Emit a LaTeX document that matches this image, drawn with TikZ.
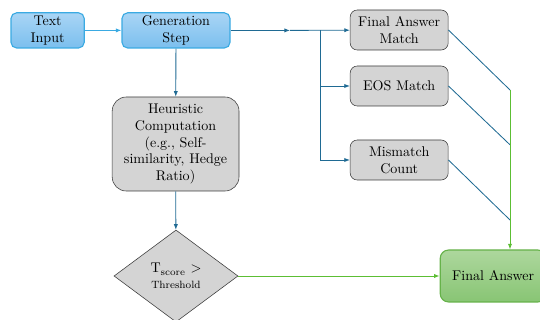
\documentclass[tikz,border=0pt]{standalone}
\usepackage{xcolor}
\usetikzlibrary{arrows.meta,positioning,shapes.geometric,calc}

\definecolor{skyfill1}{HTML}{A9D5F5}
\definecolor{skyfill2}{HTML}{7BBFEE}
\definecolor{skyline}{HTML}{3AAAE2}
\definecolor{tealline}{HTML}{1F6A93}
\definecolor{greyfill}{HTML}{D4D4D4}
\definecolor{greyline}{HTML}{3C3C3C}
\definecolor{leaf1}{HTML}{ADD79D}
\definecolor{leaf2}{HTML}{88C574}
\definecolor{leafline}{HTML}{66B24A}
\definecolor{grline}{HTML}{5CBE34}

\begin{document}
\begin{tikzpicture}[font=\fontsize{10}{12}\selectfont,>={Latex[length=4pt,width=3pt]},
  inbox/.style={draw=skyline,thick,rounded corners=4pt,top color=skyfill1,bottom color=skyfill2,align=center,inner sep=1pt},
  grbox/.style={draw=greyline,rounded corners=5pt,fill=greyfill,align=center,inner sep=1pt},
  outbox/.style={draw=leafline,thick,rounded corners=6pt,top color=leaf1,bottom color=leaf2,align=center},
  test/.style={draw=greyline,diamond,fill=greyfill,align=center,inner sep=0pt,minimum width=3.1cm,minimum height=2.3cm},
  tl/.style={draw=tealline,semithick},
  gl/.style={draw=grline,semithick}]
  \useasboundingbox (0,0) rectangle (13.5,-8);
  \node[inbox,minimum width=1.83cm,minimum height=0.88cm] (txt) at (1.19,-0.76) {Text\\Input};
  \node[inbox,minimum width=2.7cm,minimum height=0.88cm] (gen) at (4.4,-0.76) {Generation\\Step};
  \node[grbox,minimum width=2.45cm,minimum height=1cm] (fam) at (9.98,-0.75) {Final Answer\\Match};
  \node[grbox,minimum width=2.45cm,minimum height=1cm] (eos) at (9.98,-2.15) {EOS Match};
  \node[grbox,minimum width=2.45cm,minimum height=1cm] (mis) at (9.98,-4.0) {Mismatch\\Count};
  \node[grbox,rounded corners=10pt,text width=3.1cm,minimum height=2.35cm] (heu) at (4.39,-3.6)
    {Heuristic\\Computation\\(e.g., Self-\\similarity, Hedge\\Ratio)};
  \node[test] (thr) at (4.4,-6.9) {T\textsubscript{score} $>$\\[-1pt]{\fontsize{7.5}{9}\selectfont Threshold}};
  \node[outbox,minimum width=2.65cm,minimum height=1.3cm] (fin) at (12.33,-6.9) {Final Answer};
  % junctions
  \coordinate (mid) at (7.25,-0.76);
  \coordinate (fork) at (8.0,-0.76);
  \coordinate (j1) at (12.75,-2.25);
  \coordinate (j2) at (12.75,-3.62);
  \coordinate (j3) at (12.75,-5.5);
  \draw[->,draw=skyline,semithick] (txt) -- (gen);
  \draw[->,tl] (gen) -- (mid);
  \draw[->,tl] (mid) -- (fam);
  \draw[->,tl] (fork) |- (eos);
  \draw[->,tl] (fork) |- (mis);
  \draw[->,tl] (gen) -- (heu);
  \draw[->,tl] (heu) -- (thr);
  \draw[tl] (fam.east) -- (j1);
  \draw[tl] (eos.east) -- (j2);
  \draw[tl] (mis.east) -- (j3);
  \draw[->,gl] (j1) -- (j1 |- fin.north);
  \draw[->,gl] (thr) -- (fin);
\end{tikzpicture}
\end{document}
